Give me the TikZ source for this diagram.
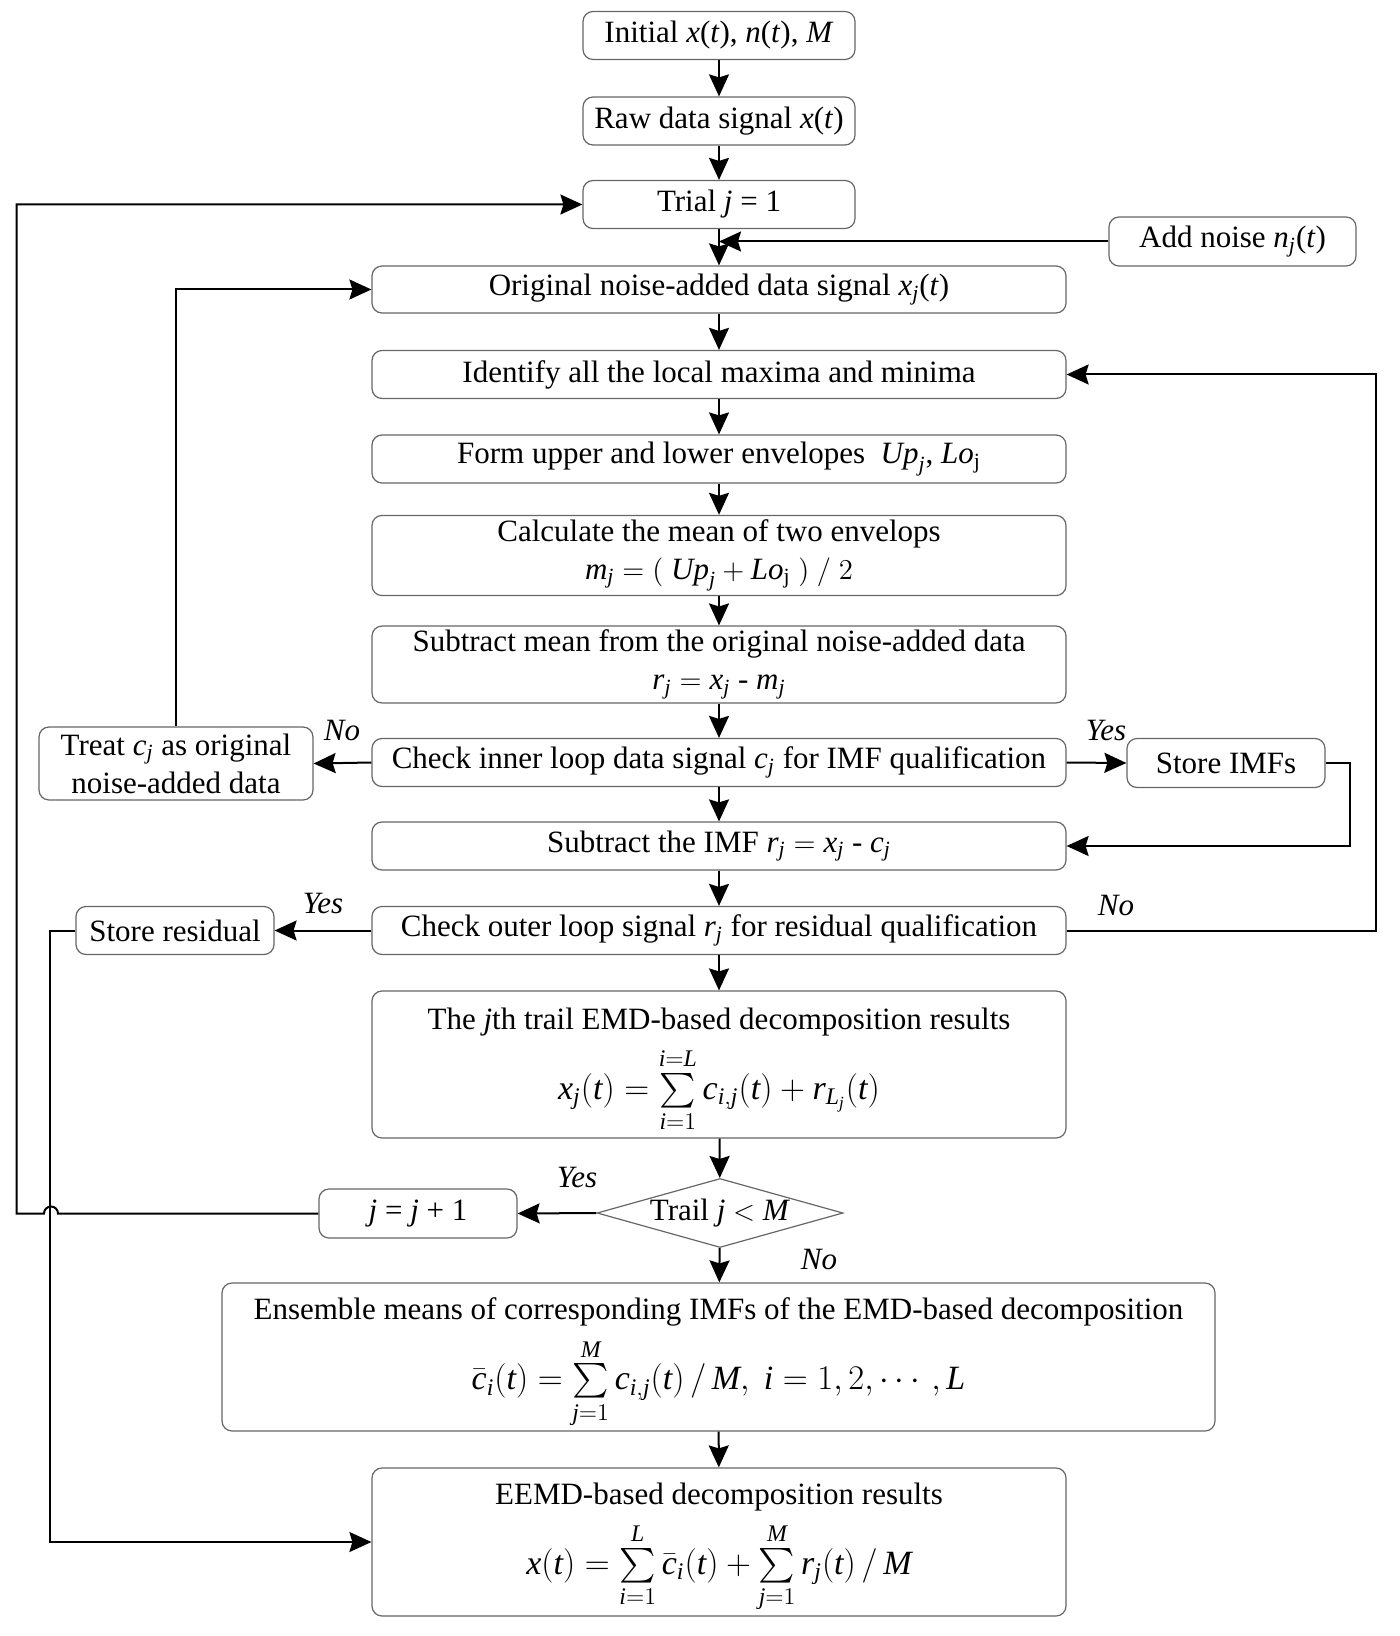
\documentclass[tikz,border=0pt]{standalone}
\usepackage{amsmath}
\usepackage{fontspec}
\setmainfont{Liberation Serif}
\usetikzlibrary{arrows.meta,shapes.geometric,calc}
\newcommand\mI[1]{\mathit{#1}}
\begin{document}
\begin{tikzpicture}[x=0.5pt,y=-0.5pt,
  box/.style={draw=black!60, line width=0.6pt, rounded corners=5pt, align=center, inner sep=2pt, font=\fontsize{15.5}{19}\selectfont},
  txt/.style={align=center, inner sep=0pt, font=\fontsize{15.5}{19}\selectfont},
  arr/.style={-{Stealth[length=11pt,width=10pt,inset=1.5pt]}, line width=1pt},
  lbl/.style={font=\fontsize{15.5}{18}\selectfont\itshape}]
\useasboundingbox (0,0) rectangle (1400,1636);

\node[box, minimum width=136pt, minimum height=24pt] (init) at (719,35.5) {Initial \textit{x}(\textit{t}), \textit{n}(\textit{t}), \textit{M}};
\node[box, minimum width=136pt, minimum height=24pt] (raw) at (719,121) {Raw data signal \textit{x}(\textit{t})};
\node[box, minimum width=136pt, minimum height=24pt] (trial) at (719,204.5) {Trial \textit{j} = 1};
\node[box, minimum width=123.5pt, minimum height=24.5pt] (noise) at (1232.5,241.5) {Add noise $\mI{n}_{\mI{j}}$(\textit{t})};
\node[box, minimum width=347pt, minimum height=23.5pt] (orig) at (719,289.5) {Original noise-added data signal $\mI{x}_{\mI{j}}$(\textit{t})};
\node[box, minimum width=347pt, minimum height=24pt] (ident) at (719,374.5) {Identify all the local maxima and minima};
\node[box, minimum width=347pt, minimum height=24pt] (form) at (719,459) {Form upper and lower envelopes\ \ $\mI{Up}_{\mI{j}}$, $\mI{Lo}_{\mathrm{j}}$};
\node[box, minimum width=347pt, minimum height=37pt] (calc) at (719,555.5) {Calculate the mean of two envelops\\ $\mI{m}_{\mI{j}} = (\ \mI{Up}_{\mI{j}} + \mI{Lo}_{\mathrm{j}}\ )\ /\ 2$};
\node[box, minimum width=347pt, minimum height=36.5pt] (subm) at (719,664.5) {Subtract mean from the original noise-added data\\ $\mI{r}_{\mI{j}} = \mI{x}_{\mI{j}}$ - $\mI{m}_{\mI{j}}$};
\node[box, minimum width=347pt, minimum height=24pt] (inner) at (719,762.5) {Check inner loop data signal $\mI{c}_{\mI{j}}$ for IMF qualification};
\node[box, minimum width=137pt, minimum height=36.5pt] (treat) at (176,763.5) {Treat $\mI{c}_{\mI{j}}$ as original\\ noise-added data};
\node[box, minimum width=99pt, minimum height=24.5pt] (simf) at (1226,763) {Store IMFs};
\node[box, minimum width=347pt, minimum height=24pt] (subimf) at (719,846) {Subtract the IMF $\mI{r}_{\mI{j}} = \mI{x}_{\mI{j}}$ - $\mI{c}_{\mI{j}}$};
\node[box, minimum width=347pt, minimum height=24pt] (outer) at (719,930.5) {Check outer loop signal $\mI{r}_{\mI{j}}$ for residual qualification};
\node[box, minimum width=99pt, minimum height=24pt] (sres) at (175,930.5) {Store residual};

\node[box, minimum width=347pt, minimum height=73.5pt] (jth) at (719,1064.5) {};
\node[txt] (jtht) at ($(jth.center)+(0,6)$) {The \textit{j}th trail EMD-based decomposition results\\[5pt]
  {\fontsize{17}{19}\selectfont $\mI{x}_{\mI{j}}(\mI{t}) = \sum\limits_{\mI{i}=1}^{\mI{i}=\mI{L}} \mI{c}_{\mI{i},\mI{j}}(\mI{t}) + \mI{r}_{\mI{L}_{\mI{j}}}(\mI{t})$}};
\node[diamond, draw=black!60, line width=0.6pt, inner sep=0pt, aspect=3.5, minimum width=123pt, minimum height=34.5pt, font=\fontsize{15.5}{18}\selectfont] (dia) at (720,1213) {Trail \textit{j} $<$ \textit{M}};
\node[box, minimum width=99pt, minimum height=24.5pt] (jj) at (418,1213.5) {\textit{j} = \textit{j} + 1};
\node[box, minimum width=496.5pt, minimum height=74pt] (ens) at (718.5,1357) {};
\node[txt] (enst) at ($(ens.center)+(0,6)$) {Ensemble means of corresponding IMFs of the EMD-based decomposition\\[5pt]
  {\fontsize{17}{19}\selectfont $\bar{\mI{c}}_{\mI{i}}(\mI{t}) = \sum\limits_{\mI{j}=1}^{\mI{M}} \mI{c}_{\mI{i},\mI{j}}(\mI{t})\,/\,\mI{M},\ \mI{i}=1,2,\cdots,\mI{L}$}};
\node[box, minimum width=347pt, minimum height=74pt] (eemd) at (719,1542) {};
\node[txt] (eemdt) at ($(eemd.center)+(0,6)$) {EEMD-based decomposition results\\[5pt]
  {\fontsize{17}{19}\selectfont $\mI{x}(\mI{t}) = \sum\limits_{\mI{i}=1}^{\mI{L}} \bar{\mI{c}}_{\mI{i}}(\mI{t}) + \sum\limits_{\mI{j}=1}^{\mI{M}} \mI{r}_{\mI{j}}(\mI{t})\,/\,\mI{M}$}};

% main chain
\draw[arr] (init) -- (raw);
\draw[arr] (raw) -- (trial);
\draw[arr] (trial) -- (orig);
\draw[arr] (noise.west) -- (noise.west -| orig.north);
\draw[arr] (orig) -- (ident);
\draw[arr] (ident) -- (form);
\draw[arr] (form) -- (calc);
\draw[arr] (calc) -- (subm);
\draw[arr] (subm) -- (inner);
\draw[arr] (inner) -- (subimf);
\draw[arr] (subimf) -- (outer);
\draw[arr] (outer) -- (jth);
\draw[arr] (jth) -- (dia);
\draw[arr] (dia) -- (ens);
\draw[arr] (ens) -- (eemd);

% inner loop branches
\draw[arr] (inner.west) -- (treat.east);
\draw[arr] (treat.north) |- (orig.west);
\draw[arr] (inner.east) -- (simf.west);
\draw[arr] (simf.east) -- ++(24,0) |- (subimf.east);

% outer loop branches
\draw[arr] (outer.east) -- ++(309,0) |- (ident.east);
\draw[arr] (outer.west) -- (sres.east);
\draw[arr] (sres.west) -- ++(-25,0) |- (eemd.west);

% trial loop
\draw[arr] (dia.west) -- (jj.east);
\draw[arr] (jj.west) -- (58,1213.5) arc[start angle=0, end angle=-180, radius=7] -- (16.7,1213.5) |- (trial.west);

% labels
\node[lbl] (l1) at (342,730) {No};
\node[lbl] (l2) at (1106,730) {Yes};
\node[lbl] (l3) at (323,903) {Yes};
\node[lbl] (l4) at (1116,905) {No};
\node[lbl] (l5) at (577,1177) {Yes};
\node[lbl] (l6) at (819,1259) {No};
\end{tikzpicture}
\end{document}
